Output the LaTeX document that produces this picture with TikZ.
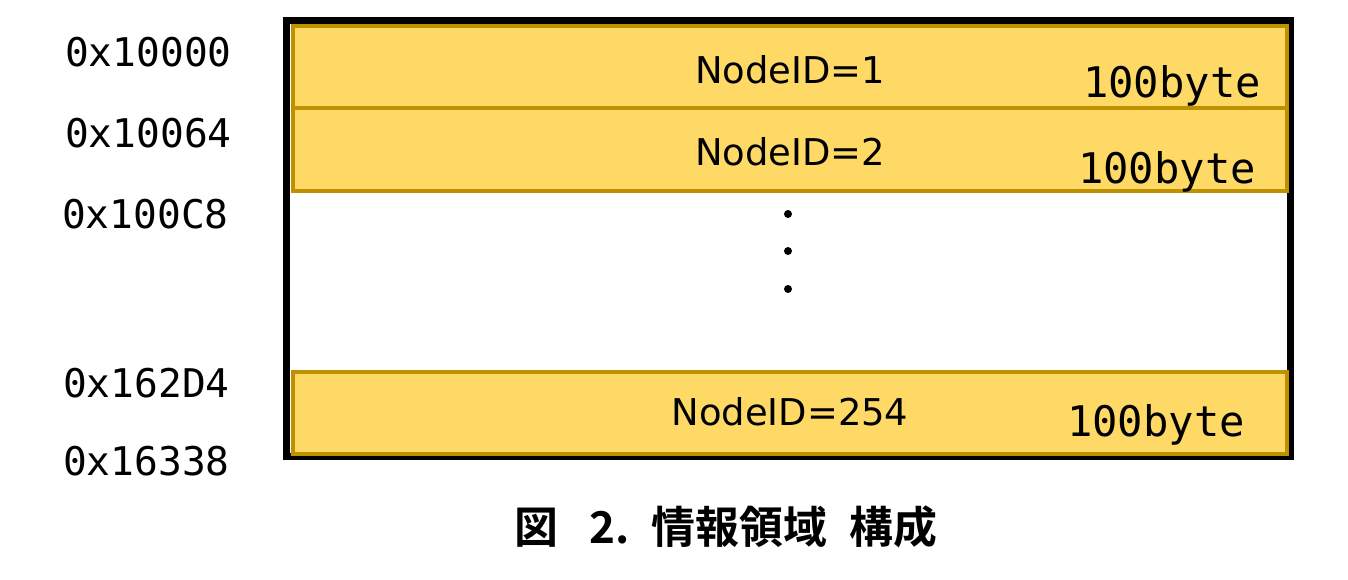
\documentclass[tikz,border=0pt]{standalone}
\usepackage{fontspec}
\setmainfont{DejaVu Sans}
\newfontfamily\addrfont{DejaVu Sans Mono}
\newfontfamily\jpfont{Noto Sans CJK JP}[BoldFont=Noto Sans CJK JP Bold]
\definecolor{bandfill}{HTML}{FED966}
\definecolor{bandline}{HTML}{BF9000}

\begin{document}
\begin{tikzpicture}[
    x=0.02cm, y=-0.02cm,
    frame/.style={draw=black, line width=3.9pt},
    band/.style={rectangle, draw=bandline, fill=bandfill, line width=2.2pt, inner sep=0pt, minimum width=19.88cm},
    nodeid/.style={font=\fontsize{21}{25}\selectfont},
    size/.style={font=\addrfont\fontsize{24}{28}\selectfont},
    addr/.style={anchor=east, inner sep=0pt, font=\addrfont\fontsize{22.5}{26}\selectfont},
    caption/.style={font=\jpfont\bfseries\fontsize{25}{30}\selectfont}
]
    \useasboundingbox (0,0) rectangle (1348,580);

    % Outer frame
    \draw [frame] (286.5,20.5) rectangle (1290.5,456.5);

    % Bands
    \node [band, minimum height=1.64cm] (band1) at (790,67) {};
    \node [band, minimum height=1.66cm] (band2) at (790,149.5) {};
    \node [band, minimum height=1.64cm] (band3) at (790,413) {};

    % Band texts
    \node [nodeid] (id1) at (790,70) {NodeID=1};
    \node [nodeid] (id2) at (790,152) {NodeID=2};
    \node [nodeid] (id254) at (790,412) {NodeID=254};
    \node [size] (size1) at (1172,86) {100byte};
    \node [size] (size2) at (1167,172) {100byte};
    \node [size] (size254) at (1156,425) {100byte};

    % Dots
    \foreach \y [count=\i] in {214,251,289}
        \fill (788,\y) circle (4) coordinate (dot\i);

    % Addresses
    \node [addr] (a1) at (232,52) {0x10000};
    \node [addr] (a2) at (232,133) {0x10064};
    \node [addr] (a3) at (229,214) {0x100C8};
    \node [addr] (a4) at (230,383) {0x162D4};
    \node [addr] (a5) at (230,461) {0x16338};

    % Caption
    \node [caption] (cap) at (726,527) {図\hspace{0.7em}2.\hspace{0.5em}情報領域\hspace{0.5em}構成};
\end{tikzpicture}
\end{document}
